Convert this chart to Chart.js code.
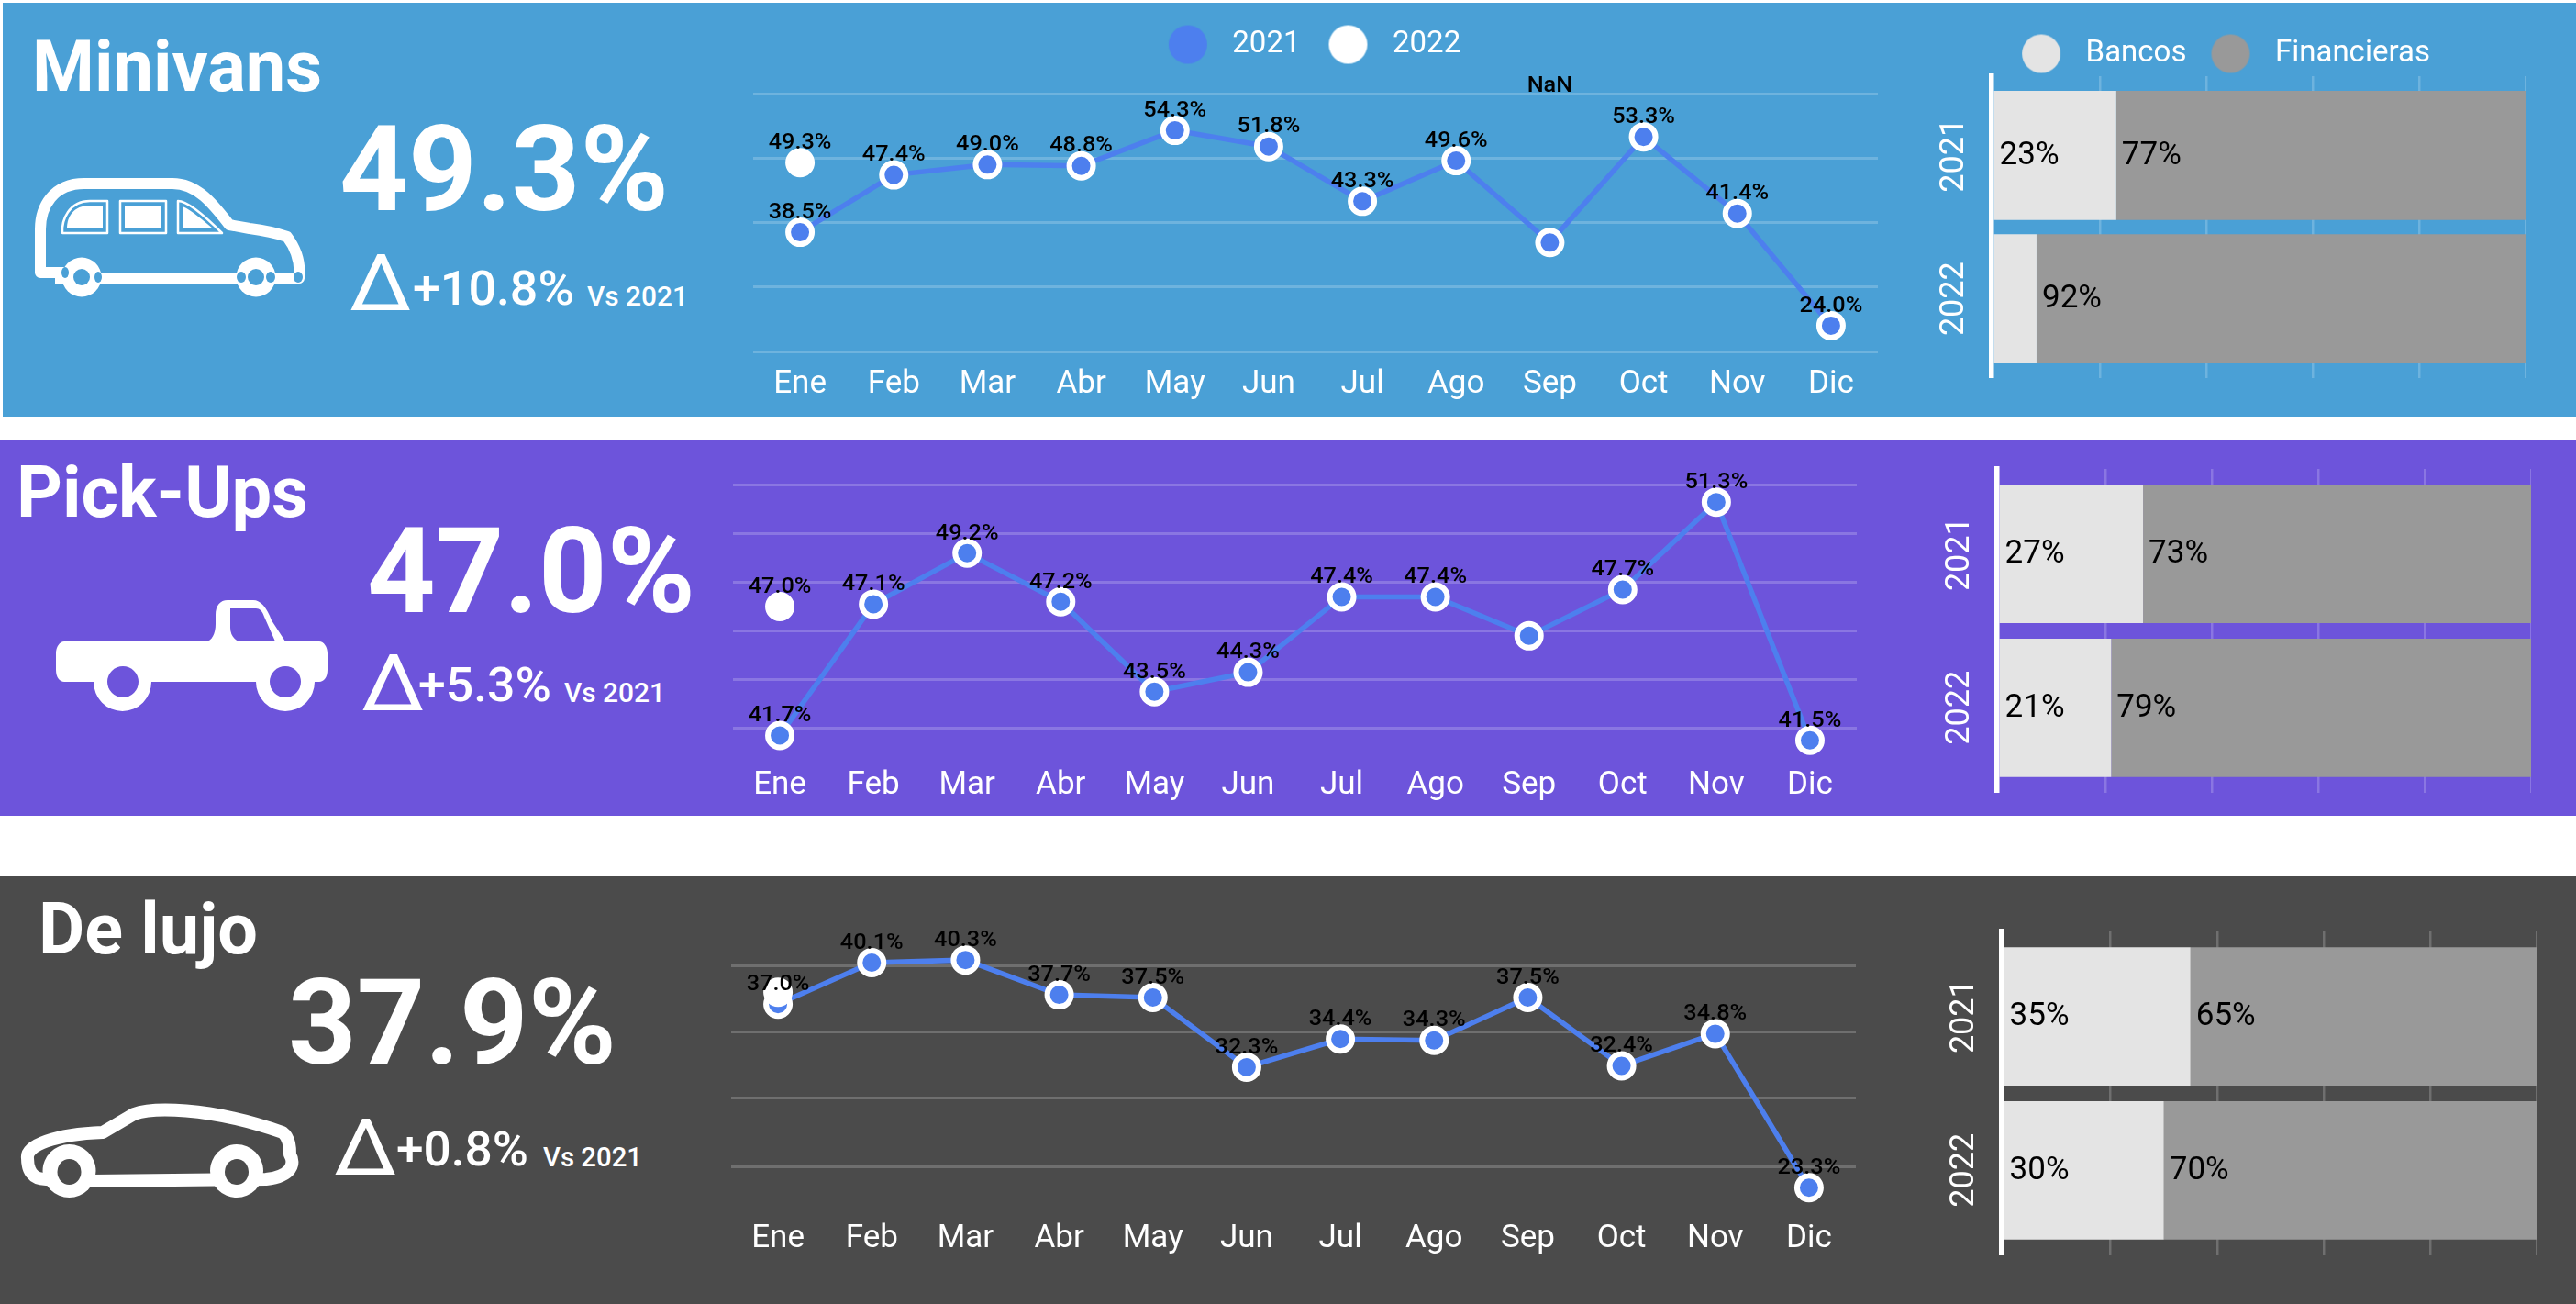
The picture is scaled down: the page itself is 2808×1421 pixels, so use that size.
<!DOCTYPE html>
<html lang="es">
<head>
<meta charset="utf-8">
<title>Minivans, Pick-Ups, De lujo</title>
<script src="https://cdn.jsdelivr.net/npm/chart.js@4/dist/chart.umd.js"></script>
<style>
html,body{margin:0;padding:0;background:#fff;}
#stage{position:relative;width:2808px;height:1421px;overflow:hidden;background:#fff;font-family:Roboto,sans-serif;}
.panel{position:absolute;}
canvas{position:absolute;display:block;}
svg{position:absolute;left:0;top:0;}
.t{position:absolute;color:#fff;white-space:nowrap;line-height:0;transform-origin:0 0;}
</style>
</head>
<body>
<div id="stage">
  <div class="panel" style="left:3px;top:3px;width:2805px;height:451px;background:#4aa0d6"></div>
  <div class="panel" style="left:0;top:479px;width:2808px;height:410px;background:#6d54db"></div>
  <div class="panel" style="left:0;top:955px;width:2808px;height:466px;background:#4b4b4b"></div>

  <svg width="2808" height="1421" viewBox="0 0 2808 1421">
    <!-- minivan -->
    <g fill="none" stroke="#fff" stroke-linejoin="round">
      <path stroke-width="12" d="M70 297H44V250C44 225 58 200 92 200H188C215 200 232 222 250 245L272 249Q296 252 313 258C322 270 328 285 326 303H60"/>
      <path stroke-width="2.5" d="M68 254C67 240 75 219 98 219H117V254Z"/>
      <path stroke-width="2.5" d="M131 219H181V254H131Z"/>
      <path stroke-width="2.5" d="M194 219C205 219 228 240 242 254H194Z"/>
    </g>
    <g fill="#fff">
      <path d="M73 249C73 236 80 224 98 224H112V249Z"/>
      <path d="M136 224H176V249H136Z"/>
      <path d="M199 225C209 229 221 240 232 249H199Z"/>
      <circle cx="89" cy="302" r="21.5"/><circle cx="279" cy="302" r="21.5"/>
    </g>
    <g fill="#4aa0d6">
      <circle cx="89" cy="302" r="9"/><circle cx="279" cy="302" r="9"/>
      <ellipse cx="71" cy="297" rx="4" ry="6"/><ellipse cx="107" cy="302" rx="4" ry="6"/>
      <ellipse cx="263" cy="302" rx="5" ry="6"/><ellipse cx="295" cy="302" rx="5" ry="6"/><ellipse cx="325" cy="302" rx="5" ry="6"/>
    </g>
    <!-- pick-up -->
    <path fill="#fff" fill-rule="evenodd" d="M70 699H224C231 699 235 690 235 680V670C235 660 240 654 248 654H276C284 654 291 662 296 676L311 699H348C353 699 357 705 357 712V730C357 738 353 743 348 743H343A32 32 0 0 1 279 743H165A31.500 32 0 0 1 102 743H70C65 743 61 738 61 730V712C61 705 65 699 70 699ZM251 663V684C251 692 256 699 263 699H300L288 672C286 666 283 663 279 663Z"/>
    <circle cx="134" cy="743" r="17" fill="#6d54db"/><circle cx="311" cy="743" r="17" fill="#6d54db"/>
    <!-- de lujo -->
    <path fill="none" stroke="#fff" stroke-width="14" stroke-linejoin="round" d="M30 1262C28 1248 60 1236 112 1234L146 1214C165 1207 225 1205 308 1234C316 1240 316 1252 316 1258C322 1268 318 1282 290 1285L100 1287L50 1285C35 1285 30 1275 30 1262Z"/>
    <g fill="#fff"><ellipse cx="75.500" cy="1276" rx="29" ry="29"/><ellipse cx="258" cy="1276" rx="29" ry="29"/></g>
    <g fill="#4b4b4b"><ellipse cx="75.500" cy="1277" rx="13" ry="14"/><ellipse cx="258" cy="1277" rx="13" ry="14"/></g>
  </svg>
</div>

<script>
// ---------- data ----------
const months = ['Ene','Feb','Mar','Abr','May','Jun','Jul','Ago','Sep','Oct','Nov','Dic'];
const yearLabels = ['2021','2022'];
const seriesNames = ['2021','2022'];
const lenderNames = ['Bancos','Financieras'];

const minivans2021 = [38.5,47.4,49.0,48.8,54.3,51.8,43.3,49.6,36.9,53.3,41.4,24.0];
const minivans2022 = [49.3,null,null,null,null,null,null,null,null,null,null,null];
const minivansUnlabelled2021 = ['Sep'];
const minivansUnlabelled2022 = [];
const minivansTicks = [20,30,40,50,60];
const minivansBancos = [23,8];
const minivansFinancieras = [77,92];

const pickups2021 = [41.7,47.1,49.2,47.2,43.5,44.3,47.4,47.4,45.8,47.7,51.3,41.5];
const pickups2022 = [47.0,null,null,null,null,null,null,null,null,null,null,null];
const pickupsUnlabelled2021 = ['Sep'];
const pickupsUnlabelled2022 = [];
const pickupsTicks = [42,44,46,48,50,52];
const pickupsBancos = [27,21];
const pickupsFinancieras = [73,79];

const lujo2021 = [37.0,40.1,40.3,37.7,37.5,32.3,34.4,34.3,37.5,32.4,34.8,23.3];
const lujo2022 = [37.9,null,null,null,null,null,null,null,null,null,null,null];
const lujoUnlabelled2021 = [];
const lujoUnlabelled2022 = ['Ene'];
const lujoTicks = [24.83,29.97,34.9,39.83];
const lujoBancos = [35,30];
const lujoFinancieras = [65,70];

const shareTicks = [20,40,60,80,100];

// ---------- styles ----------
const LINE_BLUE = '#4d7fee';
const GRID = 'rgba(255,255,255,0.2)';
const BAR_LIGHT = '#e4e4e4';
const BAR_DARK = '#999999';

// ---------- KPI text: [text, left, right, baseline, size, weight] ----------
const texts = [
  ['Minivans',35,351,99,77,700],['49.3%',370,729,229,129,700],['Δ',381,449,338,86,400],['+10.8%',450,626,333,52,500],['Vs 2021',640,750,333,29,500],
  ['Pick-Ups',18,336,563,77,700],['47.0%',400,758,667,129,700],['Δ',394,463,774,86,400],['+5.3%',456,601,765,52,500],['Vs 2021',615,725,765,29,500],
  ['De lujo',42,281,1039,77,700],['37.9%',314,672,1159,129,700],['Δ',364,433,1280,86,400],['+0.8%',432,576,1271,52,500],['Vs 2021',592,700,1271,29,500]
];

function addTexts(){
  const stage = document.getElementById('stage');
  texts.forEach(([s,l,r,b,size,w])=>{
    const e = document.createElement('div');
    e.className = 't';
    e.textContent = s;
    e.style.fontSize = size+'px';
    e.style.fontWeight = w;
    e.style.left = l+'px';
    e.style.top = (b-0.3415*size)+'px';
    stage.appendChild(e);
    const fit = (r-l)/e.getBoundingClientRect().width;
    e.style.transform = 'scaleX('+fit+')';
  });
}

function dot(color,r){
  const c = document.createElement('canvas');
  c.width = c.height = 2*r+2;
  const g = c.getContext('2d');
  g.fillStyle = color;
  g.beginPath(); g.arc(r+1,r+1,r,0,Math.PI*2); g.fill();
  return c;
}

function mount(left,top,width,height){
  const c = document.createElement('canvas');
  c.width = width; c.height = height;
  c.style.cssText = 'left:'+left+'px;top:'+top+'px;width:'+width+'px;height:'+height+'px;z-index:2';
  document.getElementById('stage').appendChild(c);
  return c;
}

const legendShift = {
  id:'legendShift',
  afterLayout(chart,args,o){
    if(chart.legend && (o.x||o.y)){
      chart.legend.left+=o.x; chart.legend.right+=o.x;
      chart.legend.top+=o.y; chart.legend.bottom+=o.y;
    }
  }
};

const pointLabels = {
  id:'pointLabels',
  afterDatasetsDraw(chart,args,o){
    const g = chart.ctx;
    const put = (s,x,y)=>{
      g.save();
      g.translate(x,y);
      g.scale(1.1,1);
      g.fillText(s,0,0);
      g.restore();
    };
    g.save();
    g.fillStyle = '#000';
    g.textAlign = 'center';
    g.textBaseline = 'middle';
    g.font = '500 23px Roboto';
    chart.data.datasets.forEach((ds,di)=>{
      const meta = chart.getDatasetMeta(di);
      meta.data.forEach((pt,i)=>{
        const v = ds.data[i];
        if(v==null || ds.unlabelled.includes(months[i])) return;
        put(v.toFixed(1)+'%',pt.x,pt.y-21);
      });
    });
    if(o.missing){
      const x = chart.scales.x.getPixelForValue(months.indexOf(o.missing.month));
      put(o.missing.text,x,chart.scales.y.getPixelForValue(o.missing.at));
    }
    g.restore();
  }
};

const barLabels = {
  id:'barLabels',
  afterDatasetsDraw(chart){
    const g = chart.ctx;
    g.save();
    g.fillStyle = '#000';
    g.textAlign = 'left';
    g.textBaseline = 'middle';
    g.font = '400 35px Roboto';
    chart.data.datasets.forEach((ds,di)=>{
      chart.getDatasetMeta(di).data.forEach((bar,i)=>{
        if(ds.data[i] < 10) return;
        g.fillText(ds.data[i]+'%',bar.base+6,bar.y+1);
      });
    });
    g.restore();
  }
};

function legendOptions(colors,padding){
  return {
    display:true,position:'top',
    labels:{
      color:'#fff',font:{family:'Roboto',size:33},padding,
      usePointStyle:true,pointStyleWidth:64,boxHeight:33,
      generateLabels(chart){
        return chart.data.datasets.map((d,i)=>({
          text:d.label,fillStyle:colors[i],strokeStyle:colors[i],lineWidth:0,fontColor:'#fff',
          pointStyle:dot(colors[i],21),datasetIndex:i,hidden:false
        }));
      }
    }
  };
}

function lineChart(c){
  const canvas = mount(c.left,c.top,c.width,c.height);
  const plugins = {
    legend:c.legend?legendOptions([LINE_BLUE,'#fff'],20):{display:false},
    tooltip:{enabled:false},
    legendShift:c.shift||{},
    pointLabels:{missing:c.missing}
  };
  new Chart(canvas,{
    type:'line',
    data:{labels:months,datasets:[
      {label:seriesNames[0],data:c.a,unlabelled:c.ua,order:2,clip:false,spanGaps:false,tension:0,
       borderColor:LINE_BLUE,borderWidth:5.5,pointRadius:13,pointBorderWidth:6,
       pointBackgroundColor:LINE_BLUE,pointBorderColor:'#fff'},
      {label:seriesNames[1],data:c.b,unlabelled:c.ub,order:1,clip:false,showLine:false,
       borderColor:'#fff',backgroundColor:'#fff',pointRadius:13,pointBorderWidth:6,
       pointBackgroundColor:'#fff',pointBorderColor:'#fff'}
    ]},
    options:{
      responsive:false,animation:false,devicePixelRatio:1,
      layout:{autoPadding:false,padding:{top:c.padTop||0,left:0,right:0,bottom:0}},
      plugins,
      scales:{
        x:{
          offset:true,
          grid:{display:false,offset:true},border:{display:false},
          ticks:{color:'#fff',font:{family:'Roboto',size:35},padding:7,maxRotation:0,autoSkip:false},
          afterFit(s){s.height=60;s.paddingLeft=0;s.paddingRight=0;}
        },
        y:{
          min:c.min,max:c.max,
          afterBuildTicks(s){s.ticks=c.ticks.map(v=>({value:v}));},
          afterFit(s){s.width=c.axisWidth;s.paddingTop=0;s.paddingBottom=0;},
          grid:{color:GRID,lineWidth:3,drawTicks:false},border:{display:false},
          ticks:{display:false}
        }
      }
    },
    plugins:[legendShift,pointLabels]
  });
}

function barChart(c){
  const canvas = mount(c.left,c.top,c.width,c.height);
  new Chart(canvas,{
    type:'bar',
    data:{labels:yearLabels,datasets:[
      {label:lenderNames[0],data:c.a,backgroundColor:BAR_LIGHT,borderWidth:0,barPercentage:0.9,categoryPercentage:1},
      {label:lenderNames[1],data:c.b,backgroundColor:BAR_DARK,borderWidth:0,barPercentage:0.9,categoryPercentage:1}
    ]},
    options:{
      indexAxis:'y',responsive:false,animation:false,devicePixelRatio:1,
      layout:{autoPadding:false,padding:{top:c.padTop||0,left:0,right:0,bottom:0}},
      plugins:{
        legend:c.legend?legendOptions([BAR_LIGHT,BAR_DARK],16):{display:false},
        tooltip:{enabled:false},
        legendShift:c.shift||{}
      },
      scales:{
        x:{
          stacked:true,min:-0.45,max:100,
          afterBuildTicks(s){s.ticks=shareTicks.map(v=>({value:v}));},
          afterFit(s){s.height=0;s.paddingLeft=0;s.paddingRight=0;},
          grid:{color:GRID,lineWidth:2.5,drawTicks:false},border:{display:false},
          ticks:{display:false}
        },
        y:{
          stacked:true,
          afterFit(s){s.width=c.axisWidth;s.paddingTop=0;s.paddingBottom=0;},
          // keeps an equal gap above, between and below the two bars
          afterUpdate(s){s._startValue=-0.5525;s._valueRange=2.105;s._endValue=1.5525;},
          grid:{display:false,drawTicks:false},
          border:{display:true,color:'#fff',width:5.5,z:1},
          ticks:{color:'#fff',font:{family:'Roboto',size:36},minRotation:90,maxRotation:90,crossAlign:'center',padding:0,autoSkip:false}
        }
      }
    },
    plugins:[legendShift,barLabels]
  });
}

function build(){
  addTexts();
  lineChart({left:800,top:0,width:1247,height:443,axisWidth:21,padTop:10,min:20,max:64.14,ticks:minivansTicks,
    a:minivans2021,b:minivans2022,ua:minivansUnlabelled2021,ub:minivansUnlabelled2022,legend:true,shift:{x:4,y:2},
    missing:{month:'Sep',text:'NaN',at:61.1}});
  lineChart({left:778,top:500,width:1246,height:380,axisWidth:21,min:41,max:53.08,ticks:pickupsTicks,
    a:pickups2021,b:pickups2022,ua:pickupsUnlabelled2021,ub:pickupsUnlabelled2022});
  lineChart({left:776,top:1000,width:1247,height:374,axisWidth:21,min:21.95,max:43.46,ticks:lujoTicks,
    a:lujo2021,b:lujo2022,ua:lujoUnlabelled2021,ub:lujoUnlabelled2022});
  barChart({left:2060,top:0,width:693,height:412,axisWidth:111,padTop:24,a:minivansBancos,b:minivansFinancieras,legend:true,shift:{x:14.5,y:2}});
  barChart({left:2060,top:500,width:699,height:364,axisWidth:117,padTop:11,a:pickupsBancos,b:pickupsFinancieras});
  barChart({left:2060,top:1000,width:705,height:368,axisWidth:122,padTop:15,a:lujoBancos,b:lujoFinancieras});
}

(document.fonts && document.fonts.load
  ? Promise.all(['400 34px Roboto','500 34px Roboto','700 34px Roboto'].map(f=>document.fonts.load(f))).catch(()=>{})
  : Promise.resolve()).then(build);
</script>
</body>
</html>
